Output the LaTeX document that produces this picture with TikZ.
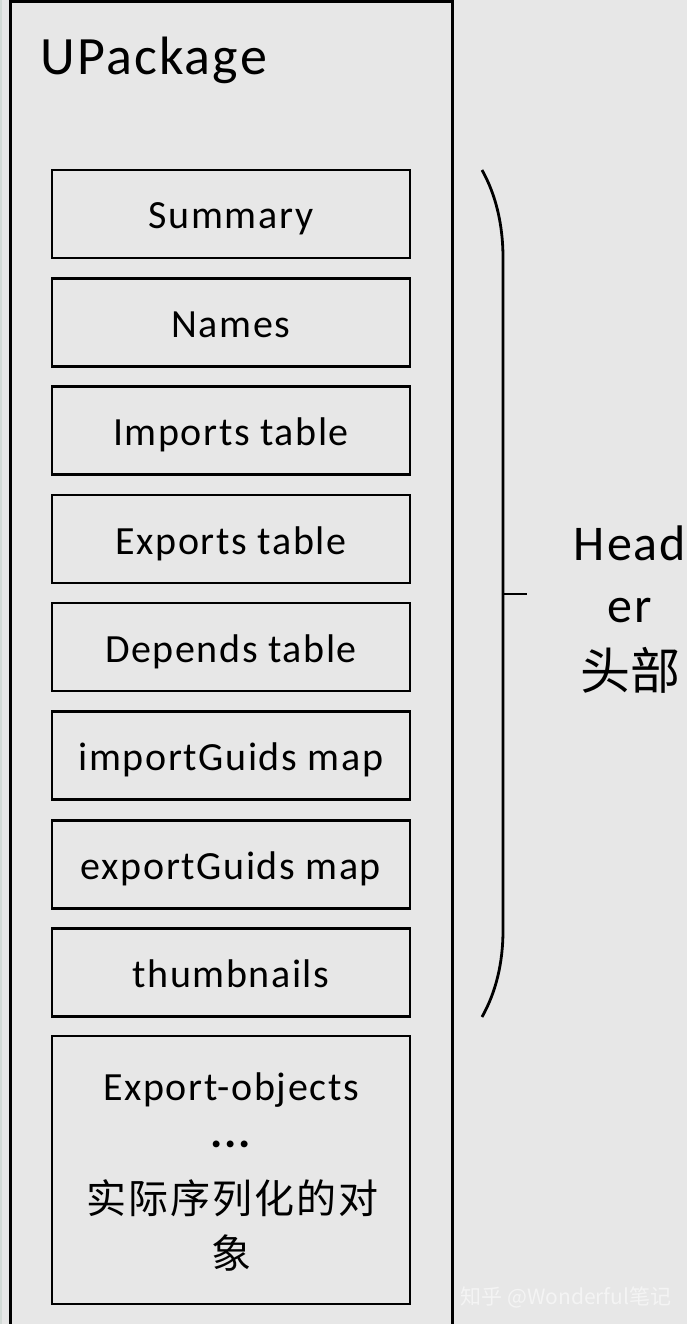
\documentclass[tikz,border=0pt]{standalone}
\usepackage{fontspec}
\setmainfont{Carlito}[LetterSpace=4]
\newfontfamily\cjk{Noto Sans CJK SC}
\newfontfamily\cjkw{Noto Sans CJK SC}[LetterSpace=5]
\definecolor{bg}{HTML}{E7E7E7}
\definecolor{edge}{HTML}{D2DAD6}
\definecolor{wm}{HTML}{F4F4F4}
\begin{document}
\begin{tikzpicture}[x=1pt,y=-1pt,line width=2.8pt,
  pbox/.style={draw=black, minimum width=358pt, minimum height=88pt, inner sep=0pt,
    font=\fontsize{40}{48}\selectfont, text height=34pt, text depth=4pt},
  txt/.style={inner sep=0pt, anchor=base},
  lbl/.style={txt, font=\fontsize{40}{48}\selectfont},
  hdr/.style={txt, font=\fontsize{50}{60}\selectfont}]
\useasboundingbox[fill=bg] (0,0) rectangle (687,1324);
\draw[edge, line width=2pt] (1,0) -- (1,1324);
% outer package frame (open at the bottom)
\coordinate (ob1) at (10,1326);
\coordinate (ot1) at (10,2);
\coordinate (ot2) at (452,2);
\coordinate (ob2) at (452,1326);
\draw[line width=3pt] (ob1) -- (ot1) -- (ot2) -- (ob2);
\node[txt, anchor=base west, font=\fontsize{54}{60}\selectfont] (title) at (39,75) {UPackage};
% header boxes
\node[pbox] (summary) at (231,214) {Summary};
\node[pbox] (names) at (231,322.5) {Names};
\node[pbox] (imports) at (231,430.5) {Imports table};
\node[pbox] (exports) at (231,539) {Exports table};
\node[pbox] (depends) at (231,647) {Depends table};
\node[pbox] (iguids) at (231,755.5) {importGuids map};
\node[pbox] (eguids) at (231,864.5) {exportGuids map};
\node[pbox] (thumbs) at (231,972.5) {thumbnails};
% export objects box
\node[draw=black, minimum width=358pt, minimum height=268pt, inner sep=0pt] (exp) at (231,1170) {};
\node[lbl] (e1) at (231,1100) {Export-objects};
\node[txt, font=\fontsize{46}{48}\selectfont\bfseries] (e2) at (231,1147) {...};
\node[lbl, font=\fontsize{40}{48}\cjkw] (e3) at (232,1213) {实际序列化的对};
\node[lbl, font=\fontsize{40}{48}\cjk] (e4) at (231,1268) {象};
% brace
\coordinate (bt) at (482,170);
\coordinate (bm1) at (503,258);
\coordinate (bm2) at (503,930);
\coordinate (bb) at (482,1017);
\coordinate (tk1) at (503,594);
\coordinate (tk2) at (527,594);
\draw (bt) .. controls (496,195) and (503,225) .. (bm1) -- (bm2) .. controls (503,963) and (496,992) .. (bb);
\draw (tk1) -- (tk2);
\node[hdr] (h1) at (630,560) {Head};
\node[hdr] (h2) at (630,622) {er};
\node[hdr, font=\fontsize{50}{60}\cjk] (h3) at (630,689) {头部};
% watermark
\node[txt, text=wm, draw=none, font=\fontsize{21}{24}\cjk] (wmk) at (566,1304) {知乎 @Wonderful笔记};
\end{tikzpicture}
\end{document}
